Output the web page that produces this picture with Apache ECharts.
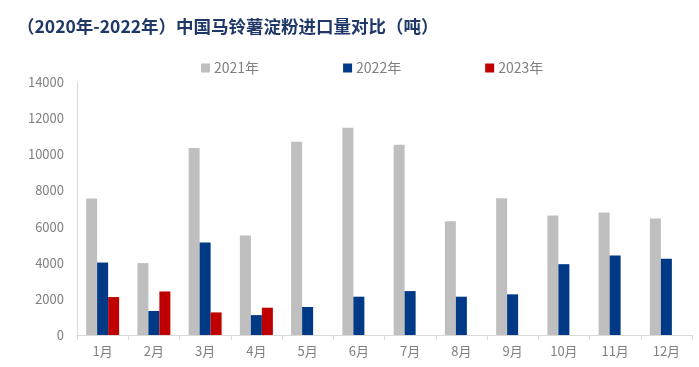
<!DOCTYPE html>
<html>
<head>
<meta charset="utf-8">
<script src="https://cdn.jsdelivr.net/npm/echarts@6/dist/echarts.min.js"></script>
<style>
html,body{margin:0;padding:0;background:#fff;}
#c{width:699px;height:367px;}
</style>
</head>
<body>
<div id="c"></div>
<script>
var categories = ['1月','2月','3月','4月','5月','6月','7月','8月','9月','10月','11月','12月'];
var seriesNames = ['2021年','2022年','2023年'];
var v2021 = [7550, 3980, 10350, 5510, 10700, 11470, 10530, 6300, 7570, 6610, 6780, 6450];
var v2022 = [4010, 1330, 5120, 1100, 1550, 2120, 2430, 2120, 2250, 3920, 4400, 4220];
var v2023 = [2100, 2410, 1250, 1510, null, null, null, null, null, null, null, null];
var yTicks = [0, 2000, 4000, 6000, 8000, 10000, 12000, 14000];

var chart = echarts.init(document.getElementById('c'), null, {renderer:'canvas'});
var font = '"Microsoft YaHei","Noto Sans CJK SC",sans-serif';
chart.setOption({
  animation:false,
  backgroundColor:'#ffffff',
  title:{
    text:'（2020年-2022年）中国马铃薯淀粉进口量对比（吨）',
    left:12, top:13,
    textStyle:{fontFamily:font, fontSize:17.5, fontWeight:'bold', color:'#1F3868'}
  },
  legend:{
    data:seriesNames,
    top:56, left:196,
    itemWidth:9, itemHeight:9, itemGap:84,
    icon:'rect',
    textStyle:{fontFamily:font, fontSize:14, color:'#808080', padding:[0,0,0,-1]}
  },
  grid:{left:77, right:7, top:82, bottom:32, containLabel:false},
  xAxis:{
    type:'category',
    data:categories,
    axisLine:{lineStyle:{color:'#D9D9D9', width:1}},
    axisTick:{show:true, alignWithLabel:false, length:5, lineStyle:{color:'#D9D9D9'}},
    axisLabel:{fontFamily:font, fontSize:13, color:'#808080', margin:10}
  },
  yAxis:{
    type:'value',
    min:yTicks[0], max:yTicks[yTicks.length-1], interval:2000,
    axisLine:{show:true, lineStyle:{color:'#D9D9D9', width:1}},
    axisTick:{show:false},
    splitLine:{show:false},
    axisLabel:{fontFamily:font, fontSize:13, color:'#808080', margin:13,
      formatter:function(v){return String(v);}}
  },
  series:[
    {name:seriesNames[0], type:'bar', data:v2021, itemStyle:{color:'#BFBFBF'}, barWidth:11, barGap:'0%'},
    {name:seriesNames[1], type:'bar', data:v2022, itemStyle:{color:'#003A87'}, barWidth:11, barGap:'0%'},
    {name:seriesNames[2], type:'bar', data:v2023, itemStyle:{color:'#C00000'}, barWidth:11, barGap:'0%'}
  ]
});
</script>
</body>
</html>
